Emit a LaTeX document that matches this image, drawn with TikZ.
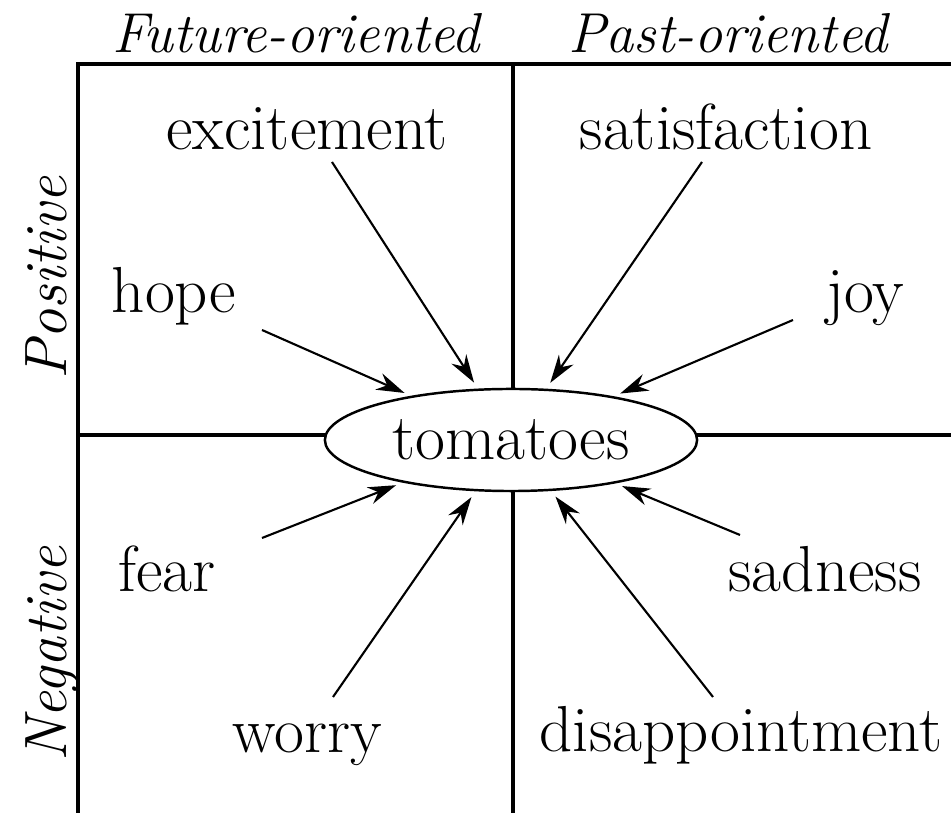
\documentclass[tikz,border=0pt]{standalone}
\usetikzlibrary{shapes.geometric,arrows.meta}
\begin{document}
\begin{tikzpicture}[x=0.01cm,y=-0.01cm,
  word/.style={font=\fontsize{18.5}{22}\selectfont,anchor=base,inner sep=0pt},
  head/.style={font=\fontsize{16}{19}\selectfont\itshape,anchor=base,inner sep=0pt},
  side/.style={head,font=\fontsize{17}{20}\selectfont\itshape,rotate=90},
  frame/.style={line width=1.15pt},
  center/.style={draw,ellipse,fill=white,line width=0.7pt,inner sep=0pt,
    minimum width=3.72cm,minimum height=1.02cm,font=\fontsize{18.5}{22}\selectfont},
  edge/.style={->,>={Stealth[length=8pt,width=5pt]},line width=0.6pt,shorten >=2pt}]
\useasboundingbox (0,0) rectangle (951,813);
% quadrants
\draw[frame] (78,813)--(78,64)--(951,64);
\draw[frame] (513,64)--(513,813);
\draw[frame] (78,435)--(951,435);
\node[head] (future) at (296,53) {Future-oriented};
\node[head] (past) at (728,53) {Past-oriented};
\node[side] (pos) at (66,278) {Positive};
\node[side] (neg) at (66,654) {Negative};
\node[center] (tom) at (511,440) {tomatoes};
% emotions
\node[word] (excitement) at (307,150) {excitement};
\node[word] (satisfaction) at (726,150) {satisfaction};
\node[word] (hope) at (174,313) {hope};
\node[word] (joy) at (865,313) {joy};
\node[word] (fear) at (167,592) {fear};
\node[word] (sadness) at (825,592) {sadness};
\node[word] (worry) at (307,753) {worry};
\node[word] (disappointment) at (741,752) {disappointment};
\coordinate (e0) at (332,162);
\coordinate (s0) at (702,162);
\coordinate (h0) at (262,330);
\coordinate (j0) at (793,320);
\coordinate (f0) at (262,538);
\coordinate (sa0) at (740,535);
\coordinate (w0) at (333,697);
\coordinate (d0) at (713,697);
\draw[edge] (e0)--(tom);
\draw[edge] (s0)--(tom);
\draw[edge] (h0)--(tom);
\draw[edge] (j0)--(tom);
\draw[edge] (f0)--(tom);
\draw[edge] (sa0)--(tom);
\draw[edge] (w0)--(tom);
\draw[edge] (d0)--(tom);
\end{tikzpicture}
\end{document}
